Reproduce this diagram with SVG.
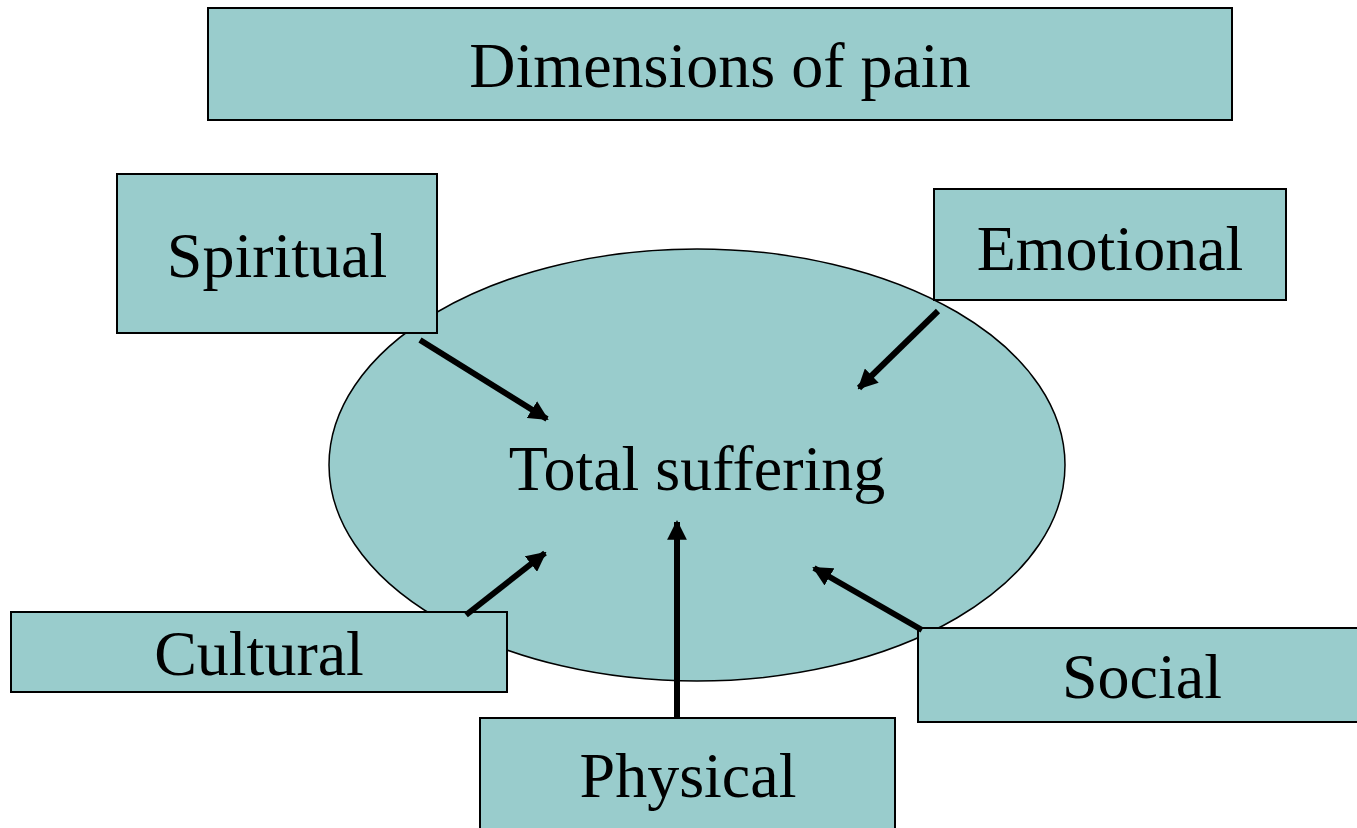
<svg xmlns="http://www.w3.org/2000/svg" width="1357" height="828" viewBox="0 0 1357 828">
<defs>
<style>
.box{fill:#99cccc;stroke:#000;stroke-width:2}
.lbl{font-family:"Liberation Serif","Times New Roman",serif;font-size:64px;fill:#000;text-anchor:middle}
.arr{stroke:#000;stroke-width:6;fill:none;marker-end:url(#ah)}
</style>
<marker id="ah" viewBox="0 0 10 10" refX="9" refY="5" markerWidth="3.3" markerHeight="3.3" orient="auto" markerUnits="strokeWidth">
<path d="M0,0 L10,5 L0,10 z" fill="#000"/>
</marker>
</defs>
<rect width="1357" height="828" fill="#fff"/>
<g id="title"><rect class="box" x="208" y="8" width="1024" height="112"/><text class="lbl" x="720" y="87">Dimensions of pain</text></g>
<g id="total"><ellipse class="box" cx="697" cy="465" rx="368" ry="216" style="stroke-width:1.5"/><text class="lbl" x="697" y="490">Total suffering</text></g>
<g id="spiritual"><rect class="box" x="117" y="174" width="320" height="159"/><text class="lbl" x="277" y="277">Spiritual</text></g>
<g id="emotional"><rect class="box" x="934" y="189" width="352" height="111"/><text class="lbl" x="1110" y="270">Emotional</text></g>
<g id="cultural"><rect class="box" x="11" y="612" width="496" height="80"/><text class="lbl" x="259" y="675">Cultural</text></g>
<g id="social"><rect class="box" x="918" y="628" width="445" height="94"/><text class="lbl" x="1142" y="698">Social</text></g>
<g id="physical"><rect class="box" x="480" y="718" width="415" height="120"/><text class="lbl" x="688" y="797">Physical</text></g>
<g id="connectors">
<line class="arr" x1="420" y1="340" x2="547" y2="419"/>
<line class="arr" x1="938" y1="311" x2="859" y2="388"/>
<line class="arr" x1="466" y1="615" x2="545" y2="553"/>
<line class="arr" x1="677" y1="718" x2="677" y2="522"/>
<line class="arr" x1="922" y1="630" x2="814" y2="568"/>
</g>
</svg>
